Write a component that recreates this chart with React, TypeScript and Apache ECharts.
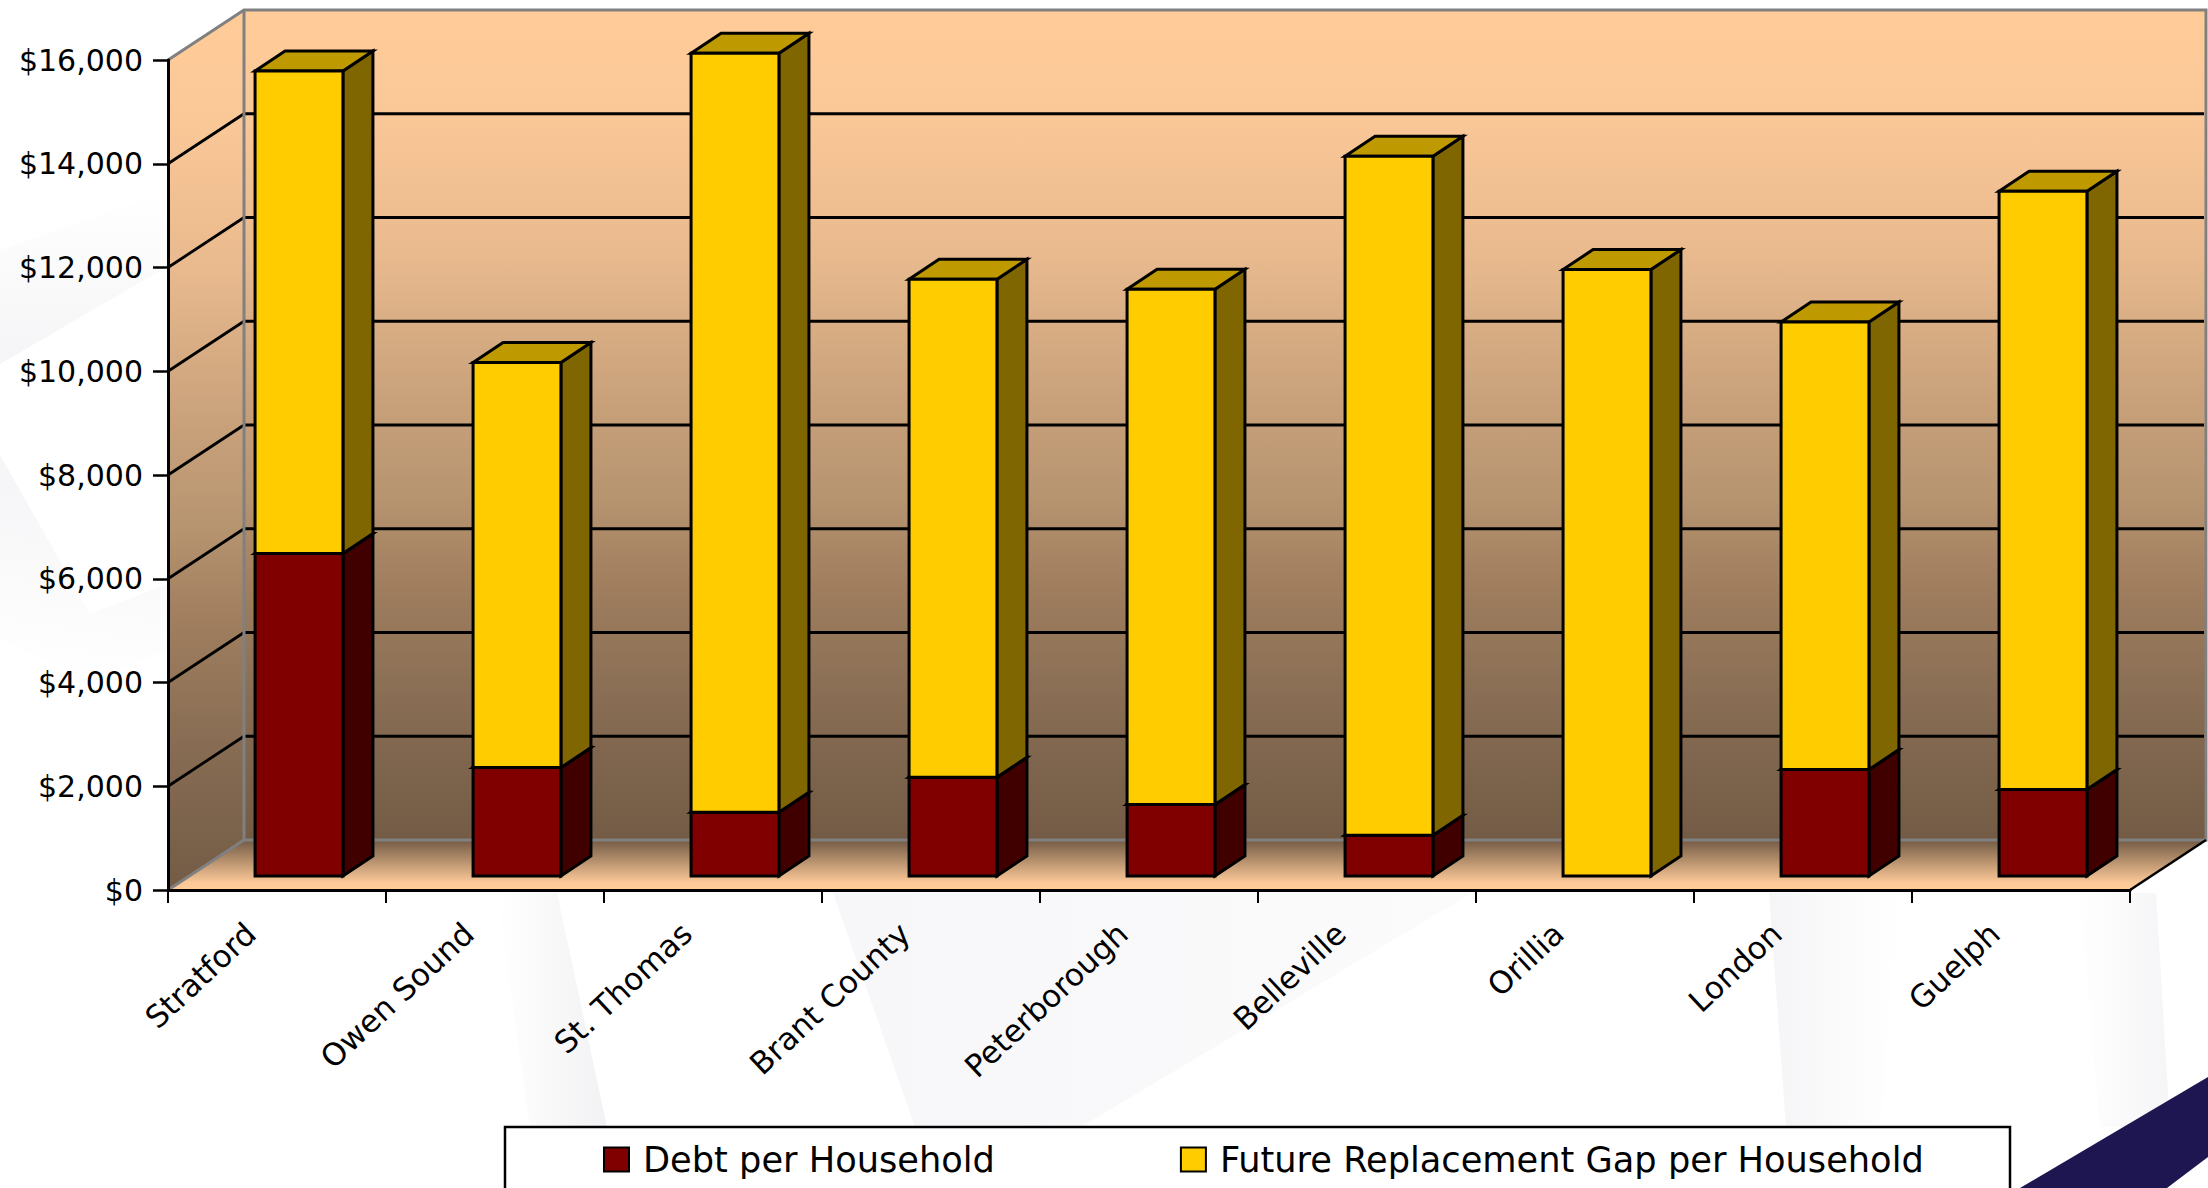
import React, { useEffect, useRef } from "react";
import * as echarts from "echarts";

const cities = ["Stratford", "Owen Sound", "St. Thomas", "Brant County", "Peterborough", "Belleville", "Orillia", "London", "Guelph"];
const debtPerHousehold = [6215, 2090, 1228, 1903, 1376, 785, 0, 2051, 1666];
const replacementGap = [9303, 7807, 14631, 9600, 9933, 13090, 11690, 8629, 11533];
const gridTicks = [2000, 4000, 6000, 8000, 10000, 12000, 14000];

const FONT = "'DejaVu Sans', sans-serif";
const WALL_DX = 76;
const WALL_DY = 50;
const BAR_INSET_X = 22;
const BAR_INSET_Y = 14;
const BAR_DX = 30;
const BAR_DY = 20;
const BAR_WIDTH_RATIO = 0.403;

const wallStops = [
  [0, "#FFCC99"],
  [0.13, "#FAC797"],
  [0.293, "#E9BA8E"],
  [0.454, "#CBA37C"],
  [0.59, "#B69470"],
  [0.687, "#A17F5F"],
  [0.831, "#886D54"],
  [1, "#735B45"],
];

const wallGradient = () =>
  new echarts.graphic.LinearGradient(0, 0, 0, 1, wallStops.map(([offset, color]) => ({ offset: offset as number, color: color as string })));

// Faint watermark shapes and the navy stripe behind the plot.
function backdrop() {
  const fade = (x0: number, y0: number, x1: number, y1: number, a: string, b: string) =>
    new echarts.graphic.LinearGradient(x0, y0, x1, y1, [
      { offset: 0, color: a },
      { offset: 1, color: b },
    ]);
  const shape = (points: number[][], fill: any) => ({
    type: "polygon",
    z: -2,
    silent: true,
    shape: { points },
    style: { fill },
  });
  const white = "#ffffff";
  return [
    shape([[0, 250], [170, 190], [170, 265], [0, 364]], fade(0, 0, 0, 1, white, "#f5f5f7")),
    shape([[0, 455], [90, 614], [170, 583], [170, 650], [90, 680], [0, 640]], fade(0.5, 0.2, 0.4, 1, "#f6f6f8", white)),
    shape([[496, 893], [557, 893], [607, 1127], [530, 1127]], fade(0, 0, 1, 0, white, "#f2f2f4")),
    shape([[833, 893], [1472, 893], [1081, 1127], [915, 1127]], fade(0, 0, 1, 0, "#f7f7f9", "#fbfbfc")),
    shape([[1769, 893], [1900, 893], [1880, 1127], [1786, 1127]], fade(0, 0, 1, 0, "#f5f5f7", white)),
    shape([[2078, 893], [2156, 893], [2170, 1127], [2100, 1127]], fade(0, 0, 1, 0, white, "#f5f5f7")),
    shape([[2020, 1188], [2208, 1077], [2208, 1157], [2167, 1188]], "#1E1650"),
    {
      type: "rect",
      z: 0,
      silent: true,
      shape: { x: 505, y: 1127, width: 1505, height: 90 },
      style: { fill: "#ffffff", stroke: "#000000", lineWidth: 2.5 },
    },
  ];
}

// Side wall, back wall, floor and their grid lines, placed through the axes.
function renderWalls(_params: any, api: any) {
  const band = api.size([1, 0])[0];
  const [firstCenter, floorY] = api.coord([0, 0]);
  const left = firstCenter - band / 2;
  const topY = api.coord([0, 16000])[1];
  const right = left + band * cities.length;
  const poly = (points: number[][], style: any) => ({ type: "polygon", shape: { points }, style });
  const line = (points: number[][], stroke: string, lineWidth: number) => ({
    type: "polyline",
    shape: { points },
    style: { stroke, lineWidth, fill: "none" },
  });
  const backL = left + WALL_DX;
  const backR = right + WALL_DX;
  const children: any[] = [
    poly([[backL, topY - WALL_DY], [backR, topY - WALL_DY], [backR, floorY - WALL_DY], [backL, floorY - WALL_DY]], { fill: wallGradient() }),
    poly([[left, topY], [backL, topY - WALL_DY], [backL, floorY - WALL_DY], [left, floorY]], { fill: wallGradient() }),
    poly([[left, floorY], [backL, floorY - WALL_DY], [backR, floorY - WALL_DY], [right, floorY]], {
      fill: new echarts.graphic.LinearGradient(0, 0, 0, 1, [
        { offset: 0, color: "#735B45" },
        { offset: 0.85, color: "#FBC897" },
        { offset: 1, color: "#FFCC99" },
      ]),
    }),
  ];
  gridTicks.forEach((tick) => {
    const y = api.coord([0, tick])[1];
    children.push(line([[left, y], [backL, y - WALL_DY], [backR - 2, y - WALL_DY]], "#000000", 2.8));
  });
  children.push(line([[left, topY], [backL, topY - WALL_DY], [backR, topY - WALL_DY], [backR, floorY - WALL_DY], [backL, floorY - WALL_DY], [backL, topY - WALL_DY]], "#808080", 3));
  children.push(line([[left, floorY], [backL, floorY - WALL_DY]], "#808080", 3));
  children.push(line([[right, floorY], [backR, floorY - WALL_DY]], "#000000", 2.5));
  return { type: "group", children };
}

// One stacked block: front face, right face and top face.
function blockRenderer(front: string, side: string, top: string) {
  return (_params: any, api: any) => {
    const category = api.value(0);
    const base = api.value(1);
    const value = api.value(2);
    if (value <= base) return null;
    const [cx, yBase] = api.coord([category, base]);
    const yTop = api.coord([category, value])[1];
    const width = api.size([1, 0])[0] * BAR_WIDTH_RATIO;
    const x0 = cx - width / 2 + BAR_INSET_X;
    const x1 = x0 + width;
    const y0 = yBase - BAR_INSET_Y;
    const y1 = yTop - BAR_INSET_Y;
    const stroke = { stroke: "#000000", lineWidth: 3, lineJoin: "miter" };
    return {
      type: "group",
      children: [
        { type: "polygon", shape: { points: [[x1, y1], [x1 + BAR_DX, y1 - BAR_DY], [x1 + BAR_DX, y0 - BAR_DY], [x1, y0]] }, style: { fill: side, ...stroke } },
        { type: "polygon", shape: { points: [[x0, y1], [x0 + BAR_DX, y1 - BAR_DY], [x1 + BAR_DX, y1 - BAR_DY], [x1, y1]] }, style: { fill: top, ...stroke } },
        { type: "polygon", shape: { points: [[x0, y0], [x1, y0], [x1, y1], [x0, y1]] }, style: { fill: front, ...stroke } },
      ],
    };
  };
}

function buildOption() {
  const debtRows = debtPerHousehold.map((v, i) => [i, 0, v]);
  const gapRows = replacementGap.map((v, i) => [i, debtPerHousehold[i], debtPerHousehold[i] + v]);
  return {
    animation: false,
    backgroundColor: "#ffffff",
    graphic: { elements: backdrop() },
    grid: { left: 168, right: 78, top: 60, bottom: 298 },
    legend: {
      left: 603,
      top: 1142,
      padding: 0,
      itemWidth: 25,
      itemHeight: 24,
      itemGap: 185,
      icon: "rect",
      data: ["Debt per Household", "Future Replacement Gap per Household"],
      textStyle: { fontFamily: FONT, fontSize: 35.2, color: "#000000", padding: [0, 0, 0, 9] },
      selectedMode: false,
    },
    xAxis: {
      type: "category",
      data: cities,
      boundaryGap: true,
      axisLine: { lineStyle: { color: "#000000", width: 3 } },
      axisTick: { show: true, length: 13, lineStyle: { color: "#000000", width: 2 } },
      axisLabel: { rotate: 43, margin: 14, interval: 0, fontFamily: FONT, fontSize: 31, color: "#000000", padding: [0, 36, 0, 0] },
      z: 5,
    },
    yAxis: {
      type: "value",
      min: 0,
      max: 16000,
      interval: 2000,
      splitLine: { show: false },
      axisLine: { show: true, lineStyle: { color: "#000000", width: 3 } },
      axisTick: { show: true, length: 15, lineStyle: { color: "#000000", width: 2.5 } },
      axisLabel: {
        margin: 25,
        fontFamily: FONT,
        fontSize: 30,
        color: "#000000",
        formatter: (v: number) => "$" + v.toLocaleString("en-US"),
      },
      z: 5,
    },
    series: [
      { type: "custom", name: "walls", z: 1, silent: true, data: [[0]], renderItem: renderWalls, clip: false },
      {
        type: "custom",
        name: "Debt per Household",
        z: 2,
        data: debtRows,
        clip: false,
        encode: { x: 0, y: [1, 2] },
        itemStyle: { color: "#800000", borderColor: "#000000", borderWidth: 2.5 },
        renderItem: blockRenderer("#800000", "#400000", "#600000"),
      },
      {
        type: "custom",
        name: "Future Replacement Gap per Household",
        z: 3,
        data: gapRows,
        clip: false,
        encode: { x: 0, y: [1, 2] },
        itemStyle: { color: "#FFCC00", borderColor: "#000000", borderWidth: 2.5 },
        renderItem: blockRenderer("#FFCC00", "#806600", "#BF9900"),
      },
    ],
  };
}

export default function App() {
  const ref = useRef<HTMLDivElement>(null);
  useEffect(() => {
    const chart = echarts.init(ref.current!, undefined, { renderer: "svg" });
    chart.setOption(buildOption() as any);
    return () => chart.dispose();
  }, []);
  return <div ref={ref} style={{ position: "absolute", left: 0, top: 0, width: 2208, height: 1188 }} />;
}
